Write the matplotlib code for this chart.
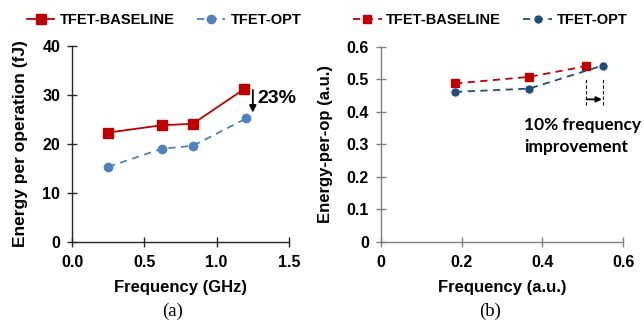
import matplotlib
matplotlib.use("Agg")
import matplotlib.pyplot as plt

# ---- data ----
freq_a_base = [0.25, 0.62, 0.835, 1.19]
energy_a_base = [22.3, 23.8, 24.1, 31.2]
freq_a_opt = [0.25, 0.62, 0.835, 1.205]
energy_a_opt = [15.3, 19.0, 19.6, 25.2]

freq_b_base = [0.184, 0.367, 0.507]
energy_b_base = [0.487, 0.507, 0.540]
freq_b_opt = [0.184, 0.367, 0.549]
energy_b_opt = [0.461, 0.471, 0.542]

xticks_a = [0.0, 0.5, 1.0, 1.5]
xticklabels_a = ["0.0", "0.5", "1.0", "1.5"]
yticks_a = [0, 10, 20, 30, 40]
xticks_b = [0, 0.2, 0.4, 0.6]
xticklabels_b = ["0", "0.2", "0.4", "0.6"]
yticks_b = [0, 0.1, 0.2, 0.3, 0.4, 0.5, 0.6]
yticklabels_b = ["0", "0.1", "0.2", "0.3", "0.4", "0.5", "0.6"]

RED = "#C00000"
LBLUE = "#4F81BD"
DBLUE = "#1F4E79"

plt.rcParams['font.family'] = ['Liberation Sans', 'DejaVu Sans']
plt.rcParams['font.weight'] = 'bold'

fig = plt.figure(figsize=(6.44, 3.23), dpi=100)

TFS = 11.5

def style_axes(ax, axcolor):
    for s in ['top', 'right']:
        ax.spines[s].set_visible(False)
    for s in ['left', 'bottom']:
        ax.spines[s].set_color(axcolor)
        ax.spines[s].set_linewidth(1.0)
    ax.tick_params(direction='inout', length=7, width=1.0, color=axcolor,
                   labelsize=TFS)
    ax.tick_params(axis='x', pad=6)
    ax.tick_params(axis='y', pad=5)
    for lab in ax.get_xticklabels() + ax.get_yticklabels():
        lab.set_fontweight('bold')

# ---- panel (a) ----
axa = fig.add_axes([72/644, 1-241.7/323, (289-72)/644, (241.7-46)/323])
axa.plot(freq_a_base, energy_a_base, color=RED, lw=1.3, marker='s', ms=6.5,
         label='TFET-BASELINE')
axa.plot(freq_a_opt, energy_a_opt, color=LBLUE, lw=1.3, ls=(0, (4, 3)),
         marker='o', ms=6, label='TFET-OPT')
axa.set_xlim(0, 1.5)
axa.set_ylim(0, 40)
axa.set_xticks(xticks_a)
axa.set_xticklabels(xticklabels_a)
axa.set_yticks(yticks_a)
style_axes(axa, '#262626')
axa.set_xlabel('Frequency (GHz)', fontsize=12, fontweight='bold', labelpad=7)
axa.set_ylabel('Energy per operation (fJ)', fontsize=12.5, fontweight='bold', labelpad=10.5)
axa.annotate('', xy=(1.25, 26.4), xytext=(1.25, 31.0),
             arrowprops=dict(arrowstyle='-|>', color='black', lw=1.3,
                             mutation_scale=10, shrinkA=0, shrinkB=0))
axa.text(1.283, 29.3, '23%', fontsize=14, fontweight='bold', va='center', ha='left')
axa.legend(loc='center', bbox_to_anchor=(164/644, 1-20/323),
           bbox_transform=fig.transFigure, ncol=2, frameon=False,
           handlelength=1.9, columnspacing=1.5, handletextpad=0.4,
           borderaxespad=0, prop={'weight': 'bold', 'size': 10.5})

# ---- panel (b) ----
axb = fig.add_axes([380.7/644, 1-241.7/323, (623.3-380.7)/644, (241.7-46.7)/323])
axb.plot(freq_b_base, energy_b_base, color=RED, lw=1.3, ls=(0, (4, 3)),
         marker='s', ms=5.5, label='TFET-BASELINE')
axb.plot(freq_b_opt, energy_b_opt, color=DBLUE, lw=1.3, ls=(0, (4, 3)),
         marker='o', ms=5, label='TFET-OPT')
axb.set_xlim(0, 0.6)
axb.set_ylim(0, 0.6)
axb.set_xticks(xticks_b)
axb.set_xticklabels(xticklabels_b)
axb.set_yticks(yticks_b)
axb.set_yticklabels(yticklabels_b)
style_axes(axb, '#808080')
axb.set_xlabel('Frequency (a.u.)', fontsize=12, fontweight='bold', labelpad=7)
axb.set_ylabel('Energy-per-op (a.u.)', fontsize=12, fontweight='bold', labelpad=10)
for xv in (freq_b_base[-1], freq_b_opt[-1]):
    axb.plot([xv, xv], [0.42, 0.505], color='black', lw=0.8, ls=(0, (3, 2)))
axb.annotate('', xy=(freq_b_opt[-1] - 0.002, 0.438), xytext=(freq_b_base[-1] + 0.002, 0.438),
             arrowprops=dict(arrowstyle='-|>', color='black', lw=1.3,
                             mutation_scale=8, shrinkA=0, shrinkB=0))
axb.text(0.354, 0.325, '10% frequency\nimprovement', fontsize=12.5, fontweight='bold',
         family=['Lato', 'DejaVu Sans'], va='center', ha='left', linespacing=1.4)
axb.legend(loc='center', bbox_to_anchor=(490/644, 1-20/323),
           bbox_transform=fig.transFigure, ncol=2, frameon=False,
           handlelength=2.0, columnspacing=1.5, handletextpad=0.3,
           borderaxespad=0, prop={'weight': 'bold', 'size': 10.5})

# ---- captions ----
fig.text(173/644, 1-311/323, '(a)', family=['Liberation Serif'], fontsize=13.5,
         fontweight='normal', ha='center', va='center')
fig.text(490/644, 1-311/323, '(b)', family=['Liberation Serif'], fontsize=13.5,
         fontweight='normal', ha='center', va='center')

fig.savefig('out.png', dpi=100)
